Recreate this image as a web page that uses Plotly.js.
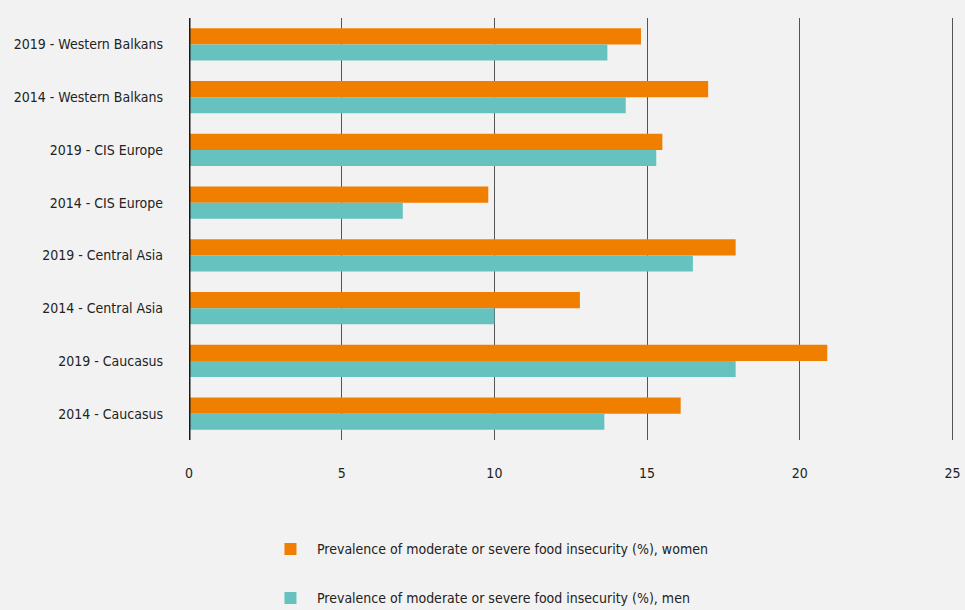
<!DOCTYPE html>
<html>
<head>
<meta charset="utf-8">
<script src="https://cdn.plot.ly/plotly-3.0.1.min.js"></script>
<style>
html,body{margin:0;padding:0;background:#f2f2f2;}
#chart{width:965px;height:610px;}
</style>
</head>
<body>
<div id="chart"></div>
<script>
var categories = [
  "2019 - Western Balkans",
  "2014 - Western Balkans",
  "2019 - CIS Europe",
  "2014 - CIS Europe",
  "2019 - Central Asia",
  "2014 - Central Asia",
  "2019 - Caucasus",
  "2014 - Caucasus"
];
var women = [14.8, 17.0, 15.5, 9.8, 17.9, 12.8, 20.9, 16.1];
var men = [13.7, 14.3, 15.3, 7.0, 16.5, 10.0, 17.9, 13.6];
var seriesNames = [
  "Prevalence of moderate or severe food insecurity (%), women",
  "Prevalence of moderate or severe food insecurity (%), men"
];
var xTicks = [0, 5, 10, 15, 20, 25];

var FONT = "'DejaVu Sans Condensed', 'Liberation Sans Narrow', sans-serif";
var FS = 14;

var data = [
  {type: "bar", orientation: "h", name: seriesNames[0], y: categories, x: women,
   marker: {color: "#f07f00"}, legend: "legend", hoverinfo: "x+y"},
  {type: "bar", orientation: "h", name: seriesNames[1], y: categories, x: men,
   marker: {color: "#66c2be"}, legend: "legend2", hoverinfo: "x+y"}
];

var legendStyle = {
  xanchor: "left", yanchor: "top", bgcolor: "rgba(0,0,0,0)",
  font: {family: FONT, size: FS, color: "#222222"}, itemwidth: 43
};

var layout = {
  width: 965, height: 610,
  paper_bgcolor: "#f2f2f2", plot_bgcolor: "#f2f2f2",
  margin: {l: 189, r: 11, t: 18, b: 170, autoexpand: false},
  barmode: "group",
  bargap: 0.393, bargroupgap: 0,
  font: {family: FONT, size: FS, color: "#222222"},
  xaxis: {
    range: [0, 25.05], tickvals: xTicks, ticktext: xTicks.map(String),
    showgrid: true, gridcolor: "#555555", gridwidth: 1,
    zeroline: false, showline: false, ticks: "", ticklabelstandoff: 23,
    automargin: false,
    tickfont: {family: FONT, size: FS, color: "#222222"}, fixedrange: true
  },
  yaxis: {
    autorange: "reversed", type: "category",
    showgrid: false, zeroline: false, showline: false, ticks: "",
    ticklabelstandoff: 25, automargin: false,
    tickfont: {family: FONT, size: FS, color: "#222222"}, fixedrange: true
  },
  shapes: [
    {type: "line", xref: "x", yref: "paper", x0: 0, x1: 0, y0: 0, y1: 1,
     line: {color: "#1a1a1a", width: 3}}
  ],
  legend: Object.assign({x: 0.098, y: -0.2213}, legendStyle),
  legend2: Object.assign({x: 0.098, y: -0.3374}, legendStyle),
  showlegend: true
};

Plotly.newPlot("chart", data, layout, {displayModeBar: false, staticPlot: true});
</script>
</body>
</html>
